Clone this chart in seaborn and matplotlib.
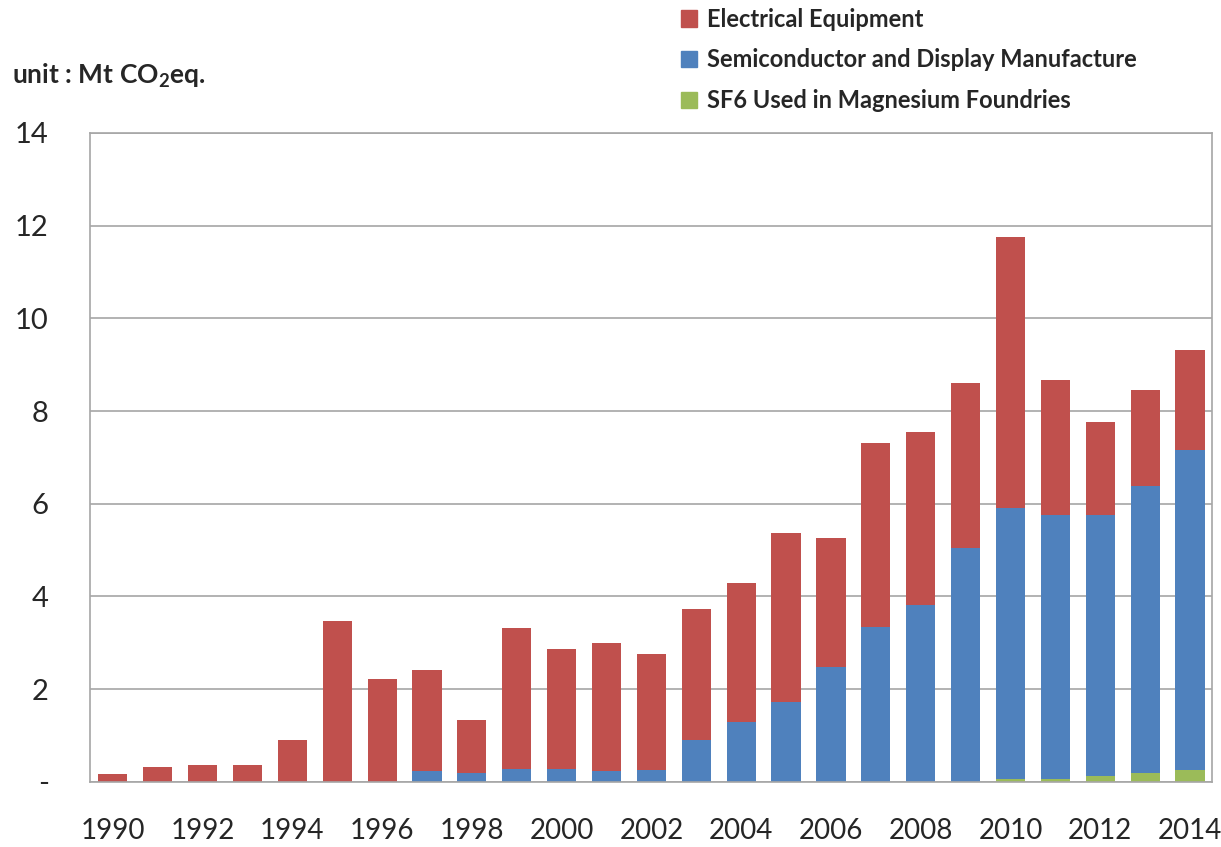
import numpy as np
import pandas as pd
import matplotlib
matplotlib.use('Agg')
import matplotlib.pyplot as plt
from matplotlib.patches import Patch
import seaborn as sns

# values (Mt CO2eq.)
years = list(range(1990, 2015))
magnesium = [0, 0, 0, 0, 0, 0, 0, 0, 0, 0, 0, 0, 0, 0, 0, 0, 0, 0, 0, 0,
             0.07, 0.07, 0.13, 0.19, 0.26]
semiconductor = [0, 0, 0, 0, 0, 0, 0, 0.24, 0.19, 0.28, 0.28, 0.24, 0.26, 0.91, 1.29,
                 1.73, 2.48, 3.34, 3.82, 5.05, 5.84, 5.69, 5.63, 6.19, 6.90]
electrical = [0.17, 0.32, 0.37, 0.37, 0.90, 3.47, 2.22, 2.18, 1.15, 3.04, 2.59, 2.76,
              2.50, 2.82, 3.00, 3.64, 2.78, 3.97, 3.73, 3.56, 5.85, 2.91, 2.01, 2.08, 2.16]

RED = '#C0504D'
BLUE = '#4F81BD'
GREEN = '#9BBB59'

df = pd.DataFrame({'year': [str(y) for y in years],
                   'mg': magnesium, 'semi': semiconductor, 'elec': electrical})
df['semi_cum'] = df['mg'] + df['semi']
df['total'] = df['semi_cum'] + df['elec']

sns.set_style('white')
plt.rcParams['font.family'] = ['Lato', 'DejaVu Sans']
plt.rcParams['mathtext.fontset'] = 'custom'
plt.rcParams['mathtext.bf'] = 'Lato:bold'
plt.rcParams['mathtext.rm'] = 'Lato'

fig = plt.figure(figsize=(12.21, 8.47), dpi=100)
ax = fig.add_axes([0.074, 0.077, 0.919, 0.766])

# stacked bars drawn as overlapping cumulative totals
bar_kw = dict(saturation=1, width=0.65, linewidth=0, ax=ax)
sns.barplot(data=df, x='year', y='total', color=RED, **bar_kw)
sns.barplot(data=df, x='year', y='semi_cum', color=BLUE, **bar_kw)
sns.barplot(data=df, x='year', y='mg', color=GREEN, **bar_kw)

ax.set_ylim(0, 14)
ax.set_xlim(-0.5, len(years) - 0.5)
ax.set_yticks(range(0, 15, 2))
ax.set_yticklabels(['-'] + [str(v) for v in range(2, 15, 2)], fontsize=21)
ax.set_xticks(range(0, len(years), 2))
ax.set_xticklabels([str(y) for y in years[::2]], fontsize=20)
ax.tick_params(axis='y', length=0, pad=30)
ax.tick_params(axis='x', length=0, pad=26)
ax.set_xlabel('')
ax.set_ylabel('')

ax.yaxis.grid(True, color='#A6A6A6', linewidth=1.2)
ax.set_axisbelow(True)
for side in ['left', 'top', 'right', 'bottom']:
    ax.spines[side].set_visible(True)
    ax.spines[side].set_color('#A6A6A6')
    ax.spines[side].set_linewidth(1.2)

fig.text(0.01, 0.91, r'unit : Mt CO$_\mathbf{2}$eq.', fontsize=19,
         fontweight='bold', ha='left', va='center')

handles = [Patch(color=RED, label='Electrical Equipment'),
           Patch(color=BLUE, label='Semiconductor and Display Manufacture'),
           Patch(color=GREEN, label='SF6 Used in Magnesium Foundries')]
fig.legend(handles=handles, loc='upper left', bbox_to_anchor=(0.54, 1.016),
           frameon=False, prop={'size': 17, 'weight': 'bold'},
           handlelength=0.7, handleheight=0.7, handletextpad=0.4, labelspacing=0.75)

fig.savefig('out.png', dpi=100)
